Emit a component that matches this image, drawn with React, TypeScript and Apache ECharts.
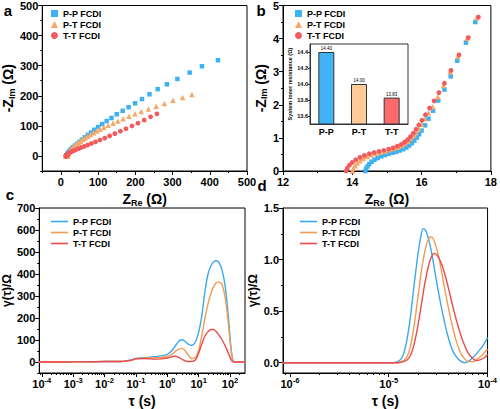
import React, { useEffect, useRef } from "react";
import * as echarts from "echarts";

const FONT = "'Liberation Sans', Arial, Helvetica, sans-serif";

const seriesNames = ["P-P FCDI", "P-T FCDI", "T-T FCDI"];
const scatterColors = ["#3db1f2", "#f5a86a", "#f25a5c"];
const scatterSymbols = ["rect", "triangle", "circle"];
const scatterSizes = [4.5, 5.5, 4.8];
const lineColors = ["#3aa9ef", "#f39a4e", "#eb4b4d"];

// Nyquist data [Z_Re (Ω), -Z_Im (Ω)]
const ppNyquist = [
  [14.38, 0], [14.4, 0.07], [14.44, 0.14], [14.49, 0.21], [14.56, 0.28], [14.64, 0.34], [14.73, 0.39], [14.83, 0.44],
  [14.94, 0.48], [15.05, 0.52], [15.16, 0.55], [15.27, 0.58], [15.37, 0.62], [15.47, 0.66], [15.56, 0.71], [15.64, 0.77],
  [15.72, 0.84], [15.79, 0.92], [15.86, 1.01], [15.93, 1.11], [16.0, 1.22], [16.1, 1.38], [16.2, 1.58], [16.33, 1.82],
  [16.48, 2.13], [16.66, 2.46], [16.84, 2.86], [17.03, 3.33], [17.28, 3.88], [17.55, 4.5],
  [17.9, 5.3], [18.4, 6.4], [19.0, 7.8], [19.9, 9.6], [21, 11.8], [22.5, 14.5], [24.5, 17.8], [27, 21.5], [30, 25.5],
  [33.5, 29.5], [38, 34.5], [43.5, 40], [49.5, 46.5], [56.5, 54], [64.5, 62], [72.5, 70], [81, 78], [90, 87], [100, 96],
  [111, 106], [123, 116], [136, 126], [150, 138.5], [166, 150], [182, 162], [199.5, 175], [218, 189], [238, 205],
  [260, 222], [285, 238], [313, 256], [346, 277], [379, 298], [422, 318],
];
const ptNyquist = [
  [14.0, 0], [14.03, 0.08], [14.08, 0.16], [14.14, 0.24], [14.22, 0.31], [14.32, 0.38], [14.43, 0.44], [14.55, 0.49],
  [14.68, 0.53], [14.81, 0.57], [14.94, 0.6], [15.07, 0.64], [15.19, 0.68], [15.31, 0.72], [15.42, 0.77], [15.52, 0.83],
  [15.61, 0.9], [15.69, 0.98], [15.77, 1.07], [15.84, 1.17], [15.92, 1.28], [16.0, 1.41], [16.1, 1.58], [16.2, 1.76],
  [16.32, 1.94], [16.47, 2.24], [16.63, 2.58], [16.82, 2.99], [17.05, 3.47], [17.31, 4.01], [17.59, 4.63],
  [18.1, 5.9], [18.8, 7.4], [19.8, 9.3], [21, 11.6], [22.6, 14.5], [24.6, 17.8], [27, 21.5], [30, 25.5], [33.5, 29.8],
  [37.5, 34.3], [42, 39], [47, 44], [52.5, 49], [58.5, 54.5], [65, 60], [72, 65.5], [79.5, 71], [87.5, 77], [96, 83],
  [105, 89], [115, 95], [127, 102], [140, 109], [153, 116], [167, 124], [183, 132], [199, 140], [216, 147.5], [235, 156],
  [256, 165], [278, 174], [301, 185], [327, 194], [352, 204],
];
const ttNyquist = [
  [13.82, 0], [13.86, 0.09], [13.92, 0.18], [14.0, 0.26], [14.1, 0.34], [14.22, 0.41], [14.35, 0.47], [14.49, 0.52],
  [14.63, 0.56], [14.77, 0.59], [14.91, 0.62], [15.05, 0.66], [15.18, 0.7], [15.3, 0.75], [15.41, 0.8], [15.51, 0.87],
  [15.6, 0.95], [15.68, 1.04], [15.76, 1.14], [15.84, 1.26], [15.92, 1.39], [16.01, 1.53], [16.11, 1.7], [16.23, 1.9],
  [16.36, 2.12], [16.5, 2.37], [16.66, 2.65], [16.85, 3.04], [17.08, 3.51], [17.35, 4.03], [17.64, 4.65],
  [18.0, 5.4], [18.6, 6.4], [19.4, 7.4], [20.5, 8.5], [22, 9.8], [24, 11.3], [26.5, 13], [29.5, 14.8], [33, 16.8],
  [37, 19], [42, 21.5], [48, 24.5], [55, 28], [63, 32], [72, 36.5], [82, 41.5], [93, 47], [105, 53], [118, 59.5],
  [131, 66.5], [145, 74], [160, 82], [175, 90.5], [191, 99.5], [207, 109], [224, 119], [241, 130], [258, 140],
];

// Inset: system inner resistance
const insetCats = ["P-P", "P-T", "T-T"];
const insetValues = [14.4, 14.0, 13.83];
const insetLabels = ["14.40", "14.00", "13.83"];
const insetColors = ["#43b3f7", "#fdcc99", "#fb6b6b"];

// DRT panel c: [log10(τ/s), γ(τ)/Ω]
const ppDrtC = [
  [-4.2, 0], [-3.5, 0], [-3, 0.5], [-2.5, 1], [-2, 2], [-1.6, 2], [-1.4, 3], [-1.2, 8], [-1.0, 16], [-0.8, 19],
  [-0.6, 21], [-0.4, 24], [-0.2, 28], [0, 35], [0.15, 52], [0.3, 82], [0.44, 101], [0.55, 96], [0.65, 83], [0.78, 75],
  [0.9, 92], [1.0, 135], [1.1, 210], [1.2, 320], [1.3, 400], [1.4, 440], [1.5, 458], [1.56, 460], [1.65, 452],
  [1.75, 415], [1.85, 340], [1.95, 200], [2.02, 80], [2.08, 15], [2.13, 0], [2.5, 0],
];
const ptDrtC = [
  [-4.2, 0], [-3.5, 0], [-3, 0.5], [-2.5, 1], [-2, 2], [-1.6, 2], [-1.4, 3], [-1.2, 7], [-1.0, 14], [-0.8, 17],
  [-0.6, 18], [-0.4, 19], [-0.2, 21], [0, 25], [0.15, 36], [0.3, 53], [0.44, 62], [0.55, 55], [0.65, 35], [0.78, 15],
  [0.9, 22], [1.0, 55], [1.1, 120], [1.2, 200], [1.3, 265], [1.4, 315], [1.5, 348], [1.6, 363], [1.68, 362],
  [1.75, 350], [1.85, 290], [1.95, 170], [2.02, 70], [2.08, 12], [2.13, 0], [2.5, 0],
];
const ttDrtC = [
  [-4.2, 0], [-3.5, 0], [-3, 0.5], [-2.5, 1], [-2, 2], [-1.6, 2], [-1.4, 3], [-1.2, 6], [-1.0, 14], [-0.8, 16],
  [-0.6, 15], [-0.4, 13], [-0.2, 14], [0, 18], [0.15, 24], [0.25, 26], [0.35, 22], [0.5, 10], [0.65, 2], [0.8, 3],
  [0.9, 10], [1.0, 40], [1.1, 82], [1.2, 118], [1.3, 138], [1.4, 148], [1.47, 148], [1.55, 140], [1.65, 122],
  [1.75, 100], [1.85, 72], [1.95, 40], [2.03, 12], [2.1, 1], [2.15, 0], [2.5, 0],
];

// DRT panel d: [log10(τ/s), γ(τ)/Ω]
const ppDrtD = [
  [-6.2, 0], [-5.5, 0], [-4.95, 0], [-4.9, 0.015], [-4.86, 0.06], [-4.82, 0.2], [-4.78, 0.45], [-4.74, 0.78],
  [-4.7, 1.08], [-4.67, 1.25], [-4.65, 1.3], [-4.62, 1.27], [-4.58, 1.13], [-4.55, 0.98], [-4.52, 0.81], [-4.48, 0.6],
  [-4.43, 0.37], [-4.39, 0.22], [-4.35, 0.11], [-4.31, 0.05], [-4.27, 0.012], [-4.23, 0], [-4.19, 0.015],
  [-4.15, 0.05], [-4.1, 0.1], [-4.05, 0.16], [-4.0, 0.24],
];
const ptDrtD = [
  [-6.2, 0], [-5.5, 0], [-4.92, 0], [-4.87, 0.01], [-4.82, 0.05], [-4.78, 0.16], [-4.74, 0.38], [-4.7, 0.67],
  [-4.66, 0.95], [-4.62, 1.14], [-4.59, 1.21], [-4.57, 1.22], [-4.54, 1.18], [-4.5, 1.05], [-4.47, 0.91],
  [-4.44, 0.75], [-4.4, 0.55], [-4.35, 0.33], [-4.31, 0.19], [-4.27, 0.09], [-4.23, 0.035], [-4.19, 0.01],
  [-4.15, 0.01], [-4.11, 0.03], [-4.06, 0.07], [-4.0, 0.13],
];
const ttDrtD = [
  [-6.2, 0], [-5.5, 0], [-4.9, 0], [-4.85, 0.01], [-4.8, 0.04], [-4.76, 0.12], [-4.72, 0.28], [-4.68, 0.5],
  [-4.64, 0.74], [-4.6, 0.93], [-4.57, 1.02], [-4.54, 1.06], [-4.51, 1.04], [-4.47, 0.97], [-4.43, 0.85],
  [-4.39, 0.7], [-4.35, 0.54], [-4.3, 0.36], [-4.25, 0.21], [-4.2, 0.1], [-4.15, 0.04], [-4.11, 0.02],
  [-4.07, 0.03], [-4.03, 0.05], [-4.0, 0.08],
];

// Tick values
const aXTicks = [0, 100, 200, 300, 400, 500];
const aXMinor = [-50, 50, 150, 250, 350, 450];
const aYTicks = [0, 100, 200, 300, 400, 500];
const aYMinor = [-50, 50, 150, 250, 350, 450];
const bXTicks = [12, 14, 16, 18];
const bXMinor = [13, 15, 17];
const bYTicks = [0, 1, 2, 3, 4, 5];
const bYMinor = [0.5, 1.5, 2.5, 3.5, 4.5];
const cXExp = [-4, -3, -2, -1, 0, 1, 2];
const cYTicks = [0, 100, 200, 300, 400, 500, 600, 700];
const cYMinor = [-50, 50, 150, 250, 350, 450, 550, 650];
const dXExp = [-6, -5, -4];
const dYTicks = [0, 0.5, 1, 1.5];
const dYMinor = [0.25, 0.75, 1.25];
const insetTicks = [13.6, 13.8, 14.0, 14.2, 14.4];

function logMinors(lo: number, hi: number) {
  const out: number[] = [];
  for (let n = Math.floor(lo) - 1; n <= Math.ceil(hi); n++) {
    for (let k = 2; k <= 9; k++) {
      const v = n + Math.log10(k);
      if (v > lo && v < hi) out.push(v);
    }
  }
  return out;
}

const black = { color: "#000", width: 1 };
const supRich = {
  b: { fontFamily: FONT, fontWeight: "bold", fontSize: 11, color: "#000" },
  p: { fontFamily: FONT, fontWeight: "bold", fontSize: 7.5, color: "#000", padding: [0, 0, 7, 0] },
};
const nameRich = {
  i: { fontFamily: FONT, fontWeight: "bold", fontSize: 14, color: "#000" },
  s: { fontFamily: FONT, fontWeight: "bold", fontSize: 9, color: "#000", padding: [7, 0, 0, 0] },
};

function mainAxis(gridIndex: number, position: string, min: number, max: number, ticks: number[], fmt: any,
  margin: number, name: string, nameGap: number, nameStyle: any) {
  return {
    type: "value", gridIndex, position, min, max,
    axisLine: { show: true, onZero: false, lineStyle: black },
    axisTick: { show: true, length: 4, customValues: ticks, lineStyle: black },
    axisLabel: {
      show: true, customValues: ticks, formatter: fmt, margin, color: "#000",
      fontFamily: FONT, fontWeight: "bold", fontSize: 11, rich: supRich,
    },
    splitLine: { show: false },
    name, nameLocation: "middle", nameGap, nameTextStyle: nameStyle,
  };
}
function minorAxis(gridIndex: number, position: string, min: number, max: number, ticks: number[]) {
  return {
    type: "value", gridIndex, position, min, max,
    axisLine: { show: false, onZero: false },
    axisTick: { show: true, length: 2, customValues: ticks, lineStyle: black },
    axisLabel: { show: false, customValues: ticks },
    splitLine: { show: false },
  };
}

const plain = (v: number) => String(v);
const pow10 = (v: number) => `{b|10}{p|${Math.round(v)}}`;
const oneDec = (v: number) => v.toFixed(1);

export default function App() {
  const ref = useRef<HTMLDivElement>(null);
  useEffect(() => {
    if (!ref.current) return;
    const chart = echarts.init(ref.current, null, { renderer: "svg" });

    const cMin = -4.08, cMax = Math.log10(300);
    const dMin = -6.07, dMax = -4;

    const xAxis: any[] = [
      mainAxis(0, "bottom", -50, 500, aXTicks, plain, 5, "{i|Z}{s|Re}{i| (Ω)}", 20, { rich: nameRich }),
      minorAxis(0, "bottom", -50, 500, aXMinor),
      mainAxis(1, "bottom", 12, 18, bXTicks, plain, 5, "{i|Z}{s|Re}{i| (Ω)}", 20, { rich: nameRich }),
      minorAxis(1, "bottom", 12, 18, bXMinor),
      mainAxis(2, "bottom", cMin, cMax, cXExp, pow10, 3, "τ (s)", 21,
        { fontFamily: FONT, fontWeight: "bold", fontSize: 14, color: "#000" }),
      minorAxis(2, "bottom", cMin, cMax, logMinors(cMin, cMax)),
      mainAxis(3, "bottom", dMin, dMax, dXExp, pow10, 3, "τ (s)", 21,
        { fontFamily: FONT, fontWeight: "bold", fontSize: 14, color: "#000" }),
      minorAxis(3, "bottom", dMin, dMax, logMinors(dMin, dMax)),
      {
        type: "category", gridIndex: 4, data: insetCats, position: "bottom",
        axisLine: { show: true, onZero: false, lineStyle: { color: "#333", width: 1 } },
        axisTick: { show: false },
        axisLabel: { color: "#000", fontFamily: FONT, fontWeight: "bold", fontSize: 9, margin: 3 },
        splitLine: { show: false },
      },
    ];
    const yAxis: any[] = [
      mainAxis(0, "left", -50, 500, aYTicks, plain, 4, "{i|-Z}{s|Im}{i| (Ω)}", 14, { rich: nameRich }),
      minorAxis(0, "left", -50, 500, aYMinor),
      mainAxis(1, "left", 0, 5, bYTicks, plain, 4, "{i|-Z}{s|Im}{i| (Ω)}", 11, { rich: nameRich }),
      minorAxis(1, "left", 0, 5, bYMinor),
      mainAxis(2, "left", -50, 700, cYTicks, plain, 4, "γ(τ)/Ω", 22,
        { fontFamily: FONT, fontWeight: "bold", fontSize: 12, color: "#000" }),
      minorAxis(2, "left", -50, 700, cYMinor),
      mainAxis(3, "left", -0.1, 1.5, dYTicks, oneDec, 4, "γ(τ)/Ω", 24,
        { fontFamily: FONT, fontWeight: "bold", fontSize: 12, color: "#000" }),
      minorAxis(3, "left", -0.1, 1.5, dYMinor),
      {
        type: "value", gridIndex: 4, position: "left", min: 13.5, max: 14.5,
        axisLine: { show: true, onZero: false, lineStyle: { color: "#333", width: 1 } },
        axisTick: { show: true, length: 2, customValues: insetTicks, lineStyle: { color: "#333", width: 1 } },
        axisLabel: {
          customValues: insetTicks, formatter: oneDec, margin: 2, color: "#000",
          fontFamily: FONT, fontWeight: "bold", fontSize: 5.5,
        },
        splitLine: { show: false },
        name: "System inner resistance (Ω)", nameLocation: "middle", nameGap: 13,
        nameTextStyle: { fontFamily: FONT, fontWeight: "bold", fontSize: 5.5, color: "#000" },
      },
    ];

    const grids = [
      { left: 36, top: 5, width: 211, height: 166 },
      { left: 283, top: 5, width: 208, height: 166 },
      { left: 38, top: 208, width: 207, height: 166 },
      { left: 283, top: 208, width: 207, height: 166 },
      { left: 310, top: 44, width: 98, height: 80 },
    ].map((g, i) => ({
      ...g, show: true, borderColor: i === 4 ? "#333" : "#000", borderWidth: 1,
      backgroundColor: i === 4 ? "#fff" : "transparent", containLabel: false,
    }));

    const nyq = [ppNyquist, ptNyquist, ttNyquist];
    const drtC = [ppDrtC, ptDrtC, ttDrtC];
    const drtD = [ppDrtD, ptDrtD, ttDrtD];

    const series: any[] = [];
    ["a", "b"].forEach((p, pi) => {
      nyq.forEach((d, i) => {
        series.push({
          type: "scatter", name: `${seriesNames[i]}|${p}`, xAxisIndex: pi * 2, yAxisIndex: pi * 2,
          data: d, symbol: scatterSymbols[i], symbolSize: scatterSizes[i], clip: true,
          itemStyle: { color: scatterColors[i], opacity: 1 }, z: 3 + i,
        });
      });
    });
    [["c", drtC, 4], ["d", drtD, 6]].forEach(([p, arr, ax]: any) => {
      arr.forEach((d: number[][], i: number) => {
        series.push({
          type: "line", name: `${seriesNames[i]}|${p}`, xAxisIndex: ax, yAxisIndex: ax,
          data: d, showSymbol: false, symbol: "none", smooth: 0.35, clip: true,
          lineStyle: { color: lineColors[i], width: 1.4 }, itemStyle: { color: lineColors[i] },
        });
      });
    });
    series.push({
      type: "bar", name: "inset", xAxisIndex: 8, yAxisIndex: 8, barWidth: 16,
      data: insetValues.map((v, i) => ({
        value: v,
        itemStyle: { color: insetColors[i], borderColor: "#333", borderWidth: 1 },
      })),
      label: {
        show: true, position: "top", distance: 1, fontFamily: FONT, fontSize: 4.5, color: "#000",
        formatter: (p: any) => insetLabels[p.dataIndex],
      },
      z: 5,
    });

    const legendBase = {
      orient: "vertical", padding: 0, itemGap: 2, selectedMode: false,
      formatter: (n: string) => n.split("|")[0],
      textStyle: { fontFamily: FONT, fontWeight: "bold", fontSize: 9, color: "#000" },
    };
    const lineLegend = (left: number, p: string) => ({
      ...legendBase, left, top: 217, itemWidth: 17, itemHeight: 9,
      data: seriesNames.map((n, i) => ({
        name: `${n}|${p}`,
        icon: "path://M0,4.2 L17,4.2 L17,5.8 L0,5.8 Z",
        itemStyle: { color: lineColors[i] },
      })),
    });
    const legend = [
      { ...legendBase, left: 51, top: 9, itemWidth: 7, itemHeight: 7, data: seriesNames.map((n) => `${n}|a`) },
      { ...legendBase, left: 295, top: 9, itemWidth: 7, itemHeight: 7, data: seriesNames.map((n) => `${n}|b`) },
      lineLegend(51, "c"),
      lineLegend(300, "d"),
    ];

    const panelLabel = (t: string, x: number, y: number) => ({
      type: "text", x, y,
      style: { text: t, fontFamily: FONT, fontWeight: "bold", fontSize: 15, fill: "#000",
        textAlign: "center", textVerticalAlign: "middle" },
    });

    chart.setOption({
      animation: false,
      backgroundColor: "#fff",
      grid: grids,
      xAxis, yAxis, series, legend,
      graphic: [panelLabel("a", 8, 10), panelLabel("b", 261, 10), panelLabel("c", 10, 194), panelLabel("d", 262, 185)],
    });
    return () => chart.dispose();
  }, []);
  return <div ref={ref} style={{ position: "fixed", left: 0, top: 0, width: 500, height: 409 }} />;
}
